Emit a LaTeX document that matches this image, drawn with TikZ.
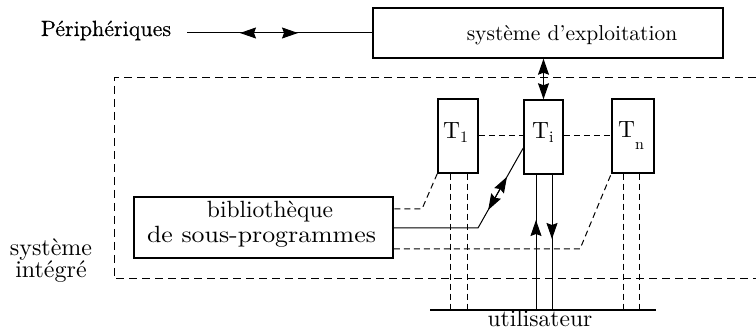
\documentclass[tikz,border=0pt]{standalone}
\usepackage{fontspec}
\setmainfont{lmroman10-regular.otf}
\newfontfamily\perifont{lmroman10-regular.otf}[FakeBold=0.4]
\usetikzlibrary{arrows.meta,calc}
\begin{document}
\begin{tikzpicture}[x=1pt,y=-1pt,
  txt/.style={inner sep=0pt, font=\fontsize{23.5}{25}\selectfont},
  box/.style={draw, line width=1.5pt, inner sep=0pt, font=\fontsize{23.5}{25}\selectfont},
  tbox/.style={box, minimum width=40pt, minimum height=74pt},
  ln/.style={line width=1pt},
  dlong/.style={line width=1pt, dash pattern=on 8pt off 5pt},
  dsh/.style={line width=1pt, dash pattern=on 6pt off 4pt},
  >={Stealth[length=16pt,width=11pt,inset=2pt]}]
\useasboundingbox (0,0) rectangle (756,331);
% boxes
\node[box, minimum width=350pt, minimum height=50pt] (os) at (548,33) {};
\node[txt, anchor=base, font=\fontsize{21.5}{25}\selectfont] (osl) at (572,41) {système d'exploitation};
\node[txt, anchor=base, font=\perifont\fontsize{22}{25}\selectfont] (peri) at (106,36) {Périphériques};
\node[box, minimum width=259pt, minimum height=61pt] (bib) at (263.5,227.5) {};
\node[txt, anchor=base] (bibl1) at (270,218) {bibliothèque};
\node[txt, anchor=base] (bibl2) at (261.5,243) {\scalebox{1.1}[1]{de sous-programmes}};
\node[tbox] (t1) at (458,136) {};
\node[tbox, minimum width=39pt] (ti) at (543.5,137) {};
\node[tbox, minimum width=42pt] (tn) at (633,136) {};
\node[txt, anchor=base west] (t1l) at (443,139) {T\raisebox{-4pt}{\fontsize{16}{16}\selectfont 1}};
\node[txt, anchor=base west] (til) at (532,139) {T\raisebox{-4pt}{\fontsize{16}{16}\selectfont i}};
\node[txt, anchor=base west] (tnl) at (618,138) {T\raisebox{-12pt}{\fontsize{16}{16}\selectfont n}};
\node[txt, align=center, font=\fontsize{24}{22}\selectfont] (si) at (51,261) {système\\intégré};
\node[txt, anchor=base] (ut) at (540,327) {utilisateur};
% coordinates
\coordinate (pl) at (187,33);
\coordinate (pa) at (240,33);
\coordinate (pb) at (298,33);
\coordinate (o1) at (756,78);
\coordinate (o2) at (114,78);
\coordinate (o3) at (114,279);
\coordinate (o4) at (756,279);
\coordinate (ua) at (430,310);
\coordinate (ub) at (656,310);
\coordinate (k1) at (422,209);
\coordinate (k2) at (478,228);
\coordinate (k3) at (580,249);
\coordinate (tiw) at ([yshift=-11pt]ti.west);
% outer dashed frame
\draw[dlong] (o1) -- (o2) -- (o3) -- (o4);
% peripheral link
\draw[ln] (pl) -- (os.west);
\draw[ln,<->] (pa) -- (pb);
% os to Ti
\draw[ln,<->] (ti.north |- os.south) -- (ti.north);
% T links
\draw[dsh] (t1.east) -- (t1.east -| ti.west);
\draw[dsh] (tn.west -| ti.east) -- (tn.west);
% user line
\draw[line width=2pt] (ua) -- (ub);
% T1 verticals
\draw[dsh] ([xshift=-8pt]t1.south) -- ([xshift=-8pt]t1.south |- ua);
\draw[dsh] ([xshift=9pt]t1.south) -- ([xshift=9pt]t1.south |- ua);
% Tn verticals
\draw[dsh] ([xshift=-10pt]tn.south) -- ([xshift=-10pt]tn.south |- ua);
\draw[dsh] ([xshift=6pt]tn.south) -- ([xshift=6pt]tn.south |- ua);
% Ti verticals
\draw[ln] ([xshift=-7.5pt]ti.south) -- ([xshift=-7.5pt]ti.south |- ua);
\draw[ln] ([xshift=8.5pt]ti.south) -- ([xshift=8.5pt]ti.south |- ua);
\draw[ln,->] ([xshift=-7.5pt]ti.south |- 0,238) -- ([xshift=-7.5pt]ti.south |- 0,220);
\draw[ln,->] ([xshift=8.5pt]ti.south |- 0,222) -- ([xshift=8.5pt]ti.south |- 0,239);
% library links
\draw[dsh] (t1.south west) -- (k1) -- (k1 -| bib.east);
\draw[ln] (k2 -| bib.east) -- (k2) -- (tiw);
\draw[ln,<->] ($(k2)!0.225!(tiw)$) -- ($(k2)!0.64!(tiw)$);
\draw[dsh] (k3 -| bib.east) -- (k3) -- (tn.south west);
\end{tikzpicture}
\end{document}
